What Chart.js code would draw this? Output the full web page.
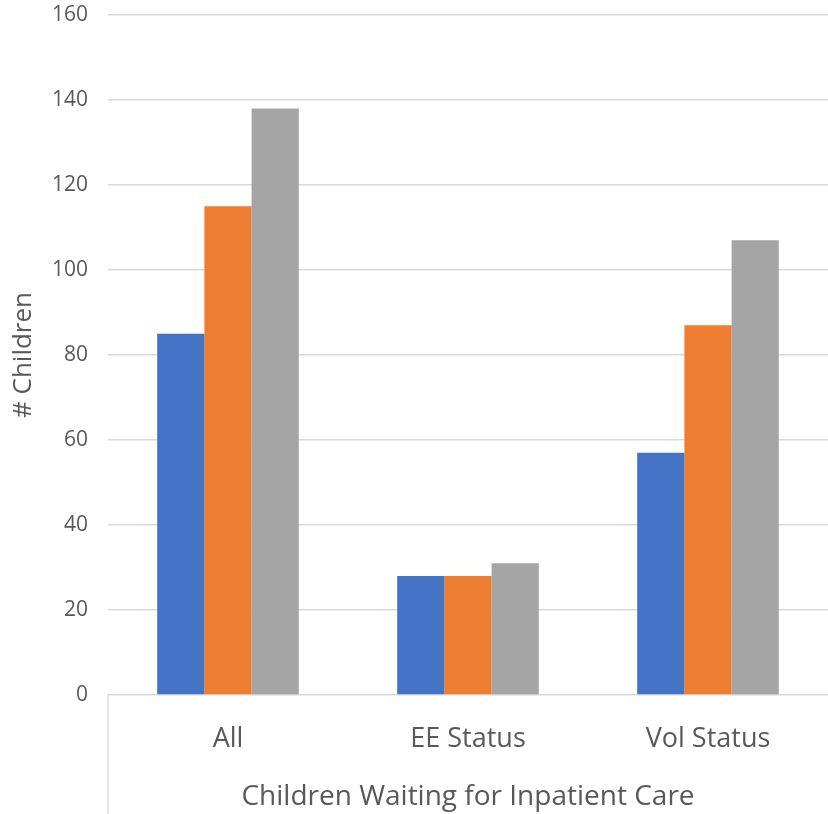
<!DOCTYPE html>
<html>
<head>
<meta charset="utf-8">
<script src="https://cdn.jsdelivr.net/npm/chart.js@4"></script>
<style>
  html, body { margin: 0; padding: 0; background: #fff; }
  #wrap { width: 828px; height: 814px; }
</style>
</head>
<body>
<div id="wrap"><canvas id="myChart"></canvas></div>
<script>
const categories = ["All", "EE Status", "Vol Status"];
const seriesNames = ["Series 1", "Series 2", "Series 3"];
const series1 = [85, 28, 57];
const series2 = [115, 28, 87];
const series3 = [138, 31, 107];
const colors = ["#4472C4", "#ED7D31", "#A5A5A5"];

const textColor = "#595959";
const gridColor = "#D9D9D9";

// left border of the category axis, running below the plot like Excel draws it
const axisEdge = {
    id: 'axisEdge',
    afterDraw(chart) {
        const { ctx, chartArea } = chart;
        ctx.save();
        ctx.strokeStyle = gridColor;
        ctx.lineWidth = 1.5;
        ctx.beginPath();
        ctx.moveTo(chartArea.left, chartArea.bottom);
        ctx.lineTo(chartArea.left, chart.height);
        ctx.stroke();
        ctx.restore();
    }
};

const ctx = document.getElementById('myChart').getContext('2d');
new Chart(ctx, {
    type: 'bar',
    data: {
        labels: categories,
        datasets: [series1, series2, series3].map((d, i) => ({
            label: seriesNames[i],
            data: d,
            backgroundColor: colors[i],
            borderWidth: 0,
            categoryPercentage: 0.59,
            barPercentage: 1.0
        }))
    },
    options: {
        responsive: true,
        maintainAspectRatio: false,
        animation: false,
        layout: { padding: { top: 15, right: 0, left: 0, bottom: 0 } },
        plugins: {
            legend: { display: false },
            tooltip: { enabled: false }
        },
        scales: {
            x: {
                grid: { display: false },
                border: { display: false },
                ticks: {
                    color: textColor,
                    font: { family: "Open Sans", size: 27 },
                    padding: 20
                },
                title: {
                    display: true,
                    text: "Children Waiting for Inpatient Care",
                    color: textColor,
                    font: { family: "Open Sans", size: 28 },
                    padding: { top: 6, bottom: 0 }
                },
                afterFit(scale) { scale.height = 119; }
            },
            y: {
                min: 0,
                max: 160,
                ticks: {
                    stepSize: 20,
                    color: textColor,
                    font: { family: "Open Sans", size: 21 },
                    padding: 20
                },
                grid: { color: gridColor, lineWidth: 1.5, drawTicks: false },
                border: { display: false },
                title: {
                    display: true,
                    text: "# Children",
                    color: textColor,
                    font: { family: "Open Sans", size: 26 },
                    padding: { top: 8, bottom: 0 }
                },
                afterFit(scale) {
                    scale.width = 108;
                    scale.paddingTop = 0;
                }
            }
        }
    },
    plugins: [axisEdge]
});
</script>
</body>
</html>
